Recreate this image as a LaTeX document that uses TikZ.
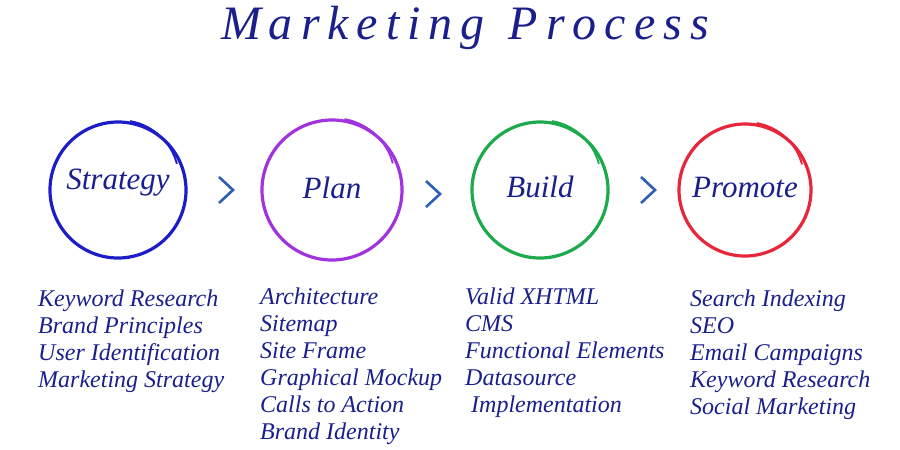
\documentclass[tikz,border=0pt]{standalone}
\usepackage{fontspec}
\setmainfont{Liberation Serif}
\definecolor{inkblue}{HTML}{1A1F8C}
\definecolor{cstrategy}{HTML}{1C1CC8}
\definecolor{cplan}{HTML}{A033DD}
\definecolor{cbuild}{HTML}{1DAA4C}
\definecolor{cpromote}{HTML}{E8263A}
\definecolor{chev}{HTML}{2D5DB5}
\tikzset{
  ring/.style={line width=3.2pt},
  stagelabel/.style={font=\fontsize{31}{34}\selectfont\itshape, text=inkblue},
  itemlist/.style={font=\fontsize{24}{27}\selectfont\itshape, text=inkblue,
    align=left, anchor=north west, inner sep=0pt},
  chevron/.style={line width=2.6pt, chev}
}
% one hand-drawn ring with a small tail
\newcommand\handring[3]{%
  \draw[ring,#3] (#1) ++(-60:#2) arc (-60:-420:#2);
  \draw[ring,#3,line width=1.8pt] (#1) ++(-80:#2+2) arc (-80:-15:#2-9);
}
% one chevron centred at a point
\newcommand\chevronat[1]{%
  \draw[chevron] ([shift={(-7,-13)}]#1) -- ([shift={(7,0)}]#1) -- ([shift={(-7,13)}]#1);
}
\begin{document}
\begin{tikzpicture}[x=1pt,y=-1pt]
  \useasboundingbox (0,0) rectangle (900,450);
  % title
  \node[font=\fontsize{48}{52}\selectfont\itshape, text=inkblue] (title) at (465,28)
    {M\,a\,r\,k\,e\,t\,i\,n\,g\ \ P\,r\,o\,c\,e\,s\,s};
  % rings
  \coordinate (cs) at (118,190);
  \coordinate (cp) at (332,190);
  \coordinate (cb) at (540,190);
  \coordinate (cr) at (745,190);
  \handring{cs}{68}{cstrategy}
  \handring{cp}{70}{cplan}
  \handring{cb}{68}{cbuild}
  \handring{cr}{66}{cpromote}
  \node[stagelabel] (strategy) at ([yshift=7]cs) {Strategy};
  \node[stagelabel] (plan) at ([yshift=2]cp) {Plan};
  \node[stagelabel] (build) at ([yshift=3]cb) {Build};
  \node[stagelabel] (promote) at ([yshift=3]cr) {Promote};
  % chevrons
  \coordinate (chevA) at (226,190);
  \coordinate (chevB) at (433,194);
  \coordinate (chevC) at (648,190);
  \chevronat{chevA}
  \chevronat{chevB}
  \chevronat{chevC}
  % lists
  \node[itemlist] (liststrategy) at (38,290) {Keyword Research\\Brand Principles\\User Identification\\Marketing Strategy};
  \node[itemlist] (listplan) at (260,288) {Architecture\\Sitemap\\Site Frame\\Graphical Mockup\\Calls to Action\\Brand Identity};
  \node[itemlist] (listbuild) at (465,288) {Valid XHTML\\CMS\\Functional Elements\\Datasource\\\ Implementation};
  \node[itemlist] (listpromote) at (690,290) {Search Indexing\\SEO\\Email Campaigns\\Keyword Research\\Social Marketing};
\end{tikzpicture}
\end{document}
